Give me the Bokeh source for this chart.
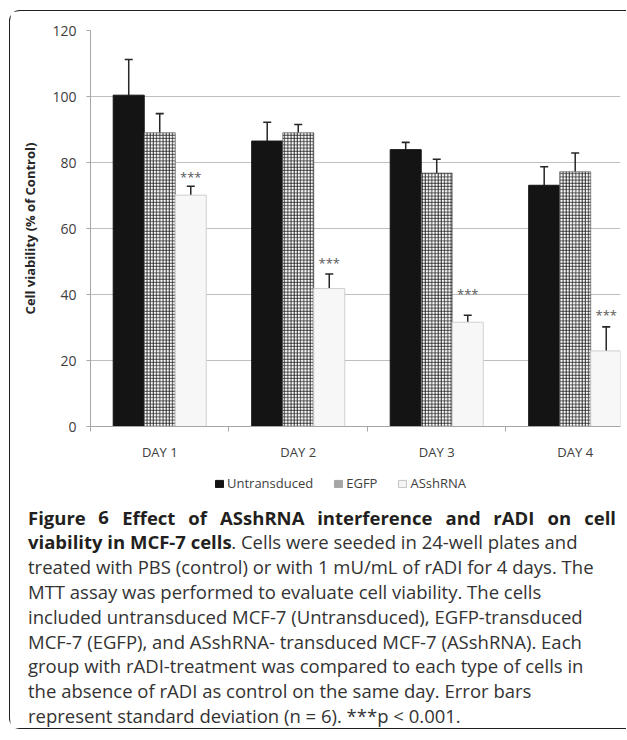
from bokeh.plotting import figure
from bokeh.layouts import column
from bokeh.models import (ColumnDataSource, Range1d, FixedTicker, Whisker, TeeHead,
                          Legend, LegendItem)
from bokeh.core.properties import value
from bokeh.embed import file_html
from bokeh.resources import INLINE

# ---------------- data ----------------
days = ["DAY 1", "DAY 2", "DAY 3", "DAY 4"]
series = ["Untransduced", "EGFP", "ASshRNA"]
untransduced = [100.4, 86.5, 83.9, 73.1]
untransduced_sd = [10.8, 5.7, 2.2, 5.6]
egfp = [89.0, 89.0, 76.8, 77.2]
egfp_sd = [5.8, 2.5, 4.2, 5.7]
asshrna = [70.1, 41.8, 31.6, 22.9]
asshrna_sd = [2.7, 4.4, 2.1, 7.3]
sig_marks = ["***", "***", "***", "***"]
sig_y = [75.5, 49.5, 40.1, 33.7]
y_ticks = [0, 20, 40, 60, 80, 100, 120]
y_label = "Cell viability (% of Control)"

caption_line1 = "Figure 6 Effect of ASshRNA interference and rADI on cell"
caption_line2_bold = "viability in MCF-7 cells"
caption_line2_rest = ". Cells were seeded in 24-well plates and"
caption_rest = [
    "treated with PBS (control) or with 1 mU/mL of rADI for 4 days. The",
    "MTT assay was performed to evaluate cell viability. The cells",
    "included untransduced MCF-7 (Untransduced), EGFP-transduced",
    "MCF-7 (EGFP), and ASshRNA- transduced MCF-7 (ASshRNA). Each",
    "group with rADI-treatment was compared to each type of cells in",
    "the absence of rADI as control on the same day. Error bars",
    "represent standard deviation (n = 6). ***p < 0.001.",
]

# ---------------- layout constants ----------------
W = 616
H1, H2 = 455, 262
FONT = "Open Sans"
CAP_SIZE = 18.5
bw = 0.224          # bar width in category units

# approximate Open Sans Bold advance widths (em) for laying out the bold words
BOLD = dict(zip("abcdefghijklmnopqrstuvwxyz",
                [.590, .630, .525, .630, .604, .379, .556, .642, .295, .295, .590, .295, .960,
                 .642, .618, .630, .630, .451, .509, .420, .642, .561, .850, .580, .561, .500]))
BOLD.update({"A": .690, "C": .635, "D": .732, "E": .546, "F": .534, "I": .339, "M": .929,
             "N": .790, "R": .656, "S": .549, "-": .322, ".": .286, " ": .260, "6": .572, "7": .572})


def width_px(s):
    return sum(BOLD.get(ch, .58) for ch in s) * CAP_SIZE


centers = [i + 0.5 for i in range(len(days))]
src = ColumnDataSource(dict(
    xu=[c - bw for c in centers], xe=centers, xa=[c + bw for c in centers],
    u=untransduced, e=egfp, a=asshrna,
    u_hi=[v + s for v, s in zip(untransduced, untransduced_sd)],
    e_hi=[v + s for v, s in zip(egfp, egfp_sd)],
    a_hi=[v + s for v, s in zip(asshrna, asshrna_sd)],
    sig=sig_marks, sig_y=sig_y,
))

# ================= chart =================
p = figure(width=W, height=H1, x_range=Range1d(0, 3.827), y_range=Range1d(0, 120),
           output_backend="svg", toolbar_location=None, frame_align=False,
           min_border_left=80, min_border_right=6, min_border_top=19, min_border_bottom=40)
p.outline_line_color = None
p.background_fill_color = "white"
p.border_fill_color = "white"

p.xgrid.grid_line_color = None
p.ygrid.grid_line_color = "#bfbfbf"
p.ygrid.grid_line_width = 1
p.ygrid.ticker = FixedTicker(ticks=y_ticks[1:])

p.yaxis.ticker = FixedTicker(ticks=y_ticks)
p.yaxis.axis_line_color = "#a6a6a6"
p.yaxis.major_tick_line_color = "#a6a6a6"
p.yaxis.major_tick_out = 4
p.yaxis.major_tick_in = 0
p.yaxis.minor_tick_line_color = None
p.yaxis.major_label_standoff = 10
p.yaxis.major_label_text_font = FONT
p.yaxis.major_label_text_font_size = "14px"
p.yaxis.major_label_text_color = "#404040"
p.yaxis.axis_label = y_label
p.yaxis.axis_label_text_font = FONT
p.yaxis.axis_label_text_font_size = "13px"
p.yaxis.axis_label_text_font_style = "bold"
p.yaxis.axis_label_text_color = "#262626"
p.yaxis.axis_label_standoff = 10

p.xaxis.ticker = FixedTicker(ticks=centers, minor_ticks=list(range(len(days))))
p.xaxis.major_label_overrides = {c: d for c, d in zip(centers, days)}
p.xaxis.axis_line_color = "#a6a6a6"
p.xaxis.major_tick_line_color = None
p.xaxis.major_tick_out = 0
p.xaxis.major_tick_in = 0
p.xaxis.minor_tick_line_color = "#a6a6a6"
p.xaxis.minor_tick_out = 5
p.xaxis.minor_tick_in = 0
p.xaxis.major_label_standoff = 11
p.xaxis.major_label_text_font = FONT
p.xaxis.major_label_text_font_size = "13px"
p.xaxis.major_label_text_color = "#404040"

p.vbar(x="xu", top="u", bottom=0, width=bw, source=src,
       fill_color="#141414", line_color="#141414", line_width=1)
p.vbar(x="xe", top="e", bottom=0, width=bw, source=src,
       fill_color="white", line_color="#444444", line_width=0.6,
       hatch_pattern="+", hatch_color="#222222", hatch_scale=3.2, hatch_weight=0.9)
p.vbar(x="xa", top="a", bottom=0, width=bw, source=src,
       fill_color="#f7f7f7", line_color="#cfcfcf", line_width=1)

for xcol, lo, hi in (("xu", "u", "u_hi"), ("xe", "e", "e_hi"), ("xa", "a", "a_hi")):
    p.add_layout(Whisker(source=src, base=xcol, lower=lo, upper=hi, dimension="height",
                         line_color="#262626", line_width=1.5, lower_head=None,
                         upper_head=TeeHead(size=8, line_color="#262626", line_width=1.6)))

p.text(x="xa", y="sig_y", text="sig", source=src, text_align="center", text_baseline="middle",
       text_font=value(FONT), text_font_size="13px", text_color="#595959")

# ================= legend + caption =================
c = figure(width=W, height=H2, x_range=Range1d(0, W), y_range=Range1d(H2, 0),
           output_backend="svg", toolbar_location=None, frame_align=False,
           min_border=0, min_border_left=0, min_border_right=0,
           min_border_top=0, min_border_bottom=0)
c.axis.visible = False
c.grid.visible = False
c.outline_line_color = None
c.background_fill_color = "white"
c.border_fill_color = "white"

nan = float("nan")
r_u = c.vbar(x=[nan], top=[nan], width=1, fill_color="#141414", line_color="#141414")
r_e = c.vbar(x=[nan], top=[nan], width=1, fill_color="#a6a6a6", line_color="#a6a6a6")
r_a = c.vbar(x=[nan], top=[nan], width=1, fill_color="#f5f5f5", line_color="#c4c4c4")
legend = Legend(items=[LegendItem(label=s, renderers=[r]) for s, r in zip(series, (r_u, r_e, r_a))],
                orientation="horizontal", location=(204, H2 - 26),
                glyph_width=10, glyph_height=9, label_standoff=3, spacing=20,
                padding=0, margin=0, border_line_color=None, background_fill_alpha=0,
                label_text_font=FONT, label_text_font_size="13px", label_text_color="#404040")
c.add_layout(legend, "center")

x0 = 17.5
base0 = 50.5
lh = 24.8

words = caption_line1.split(" ")
ws = [width_px(w) for w in words]
gap = (588 - sum(ws)) / (len(words) - 1)
wx = []
acc = x0
for wd in ws:
    wx.append(acc)
    acc += wd + gap
bold_w = width_px(caption_line2_bold) + 2

bold_src = ColumnDataSource(dict(x=wx + [x0], y=[base0] * len(words) + [base0 + lh],
                                 t=words + [caption_line2_bold]))
reg_src = ColumnDataSource(dict(
    x=[x0 + bold_w] + [x0] * len(caption_rest),
    y=[base0 + lh] + [base0 + lh * (k + 2) for k in range(len(caption_rest))],
    t=[caption_line2_rest] + caption_rest))

c.text(x="x", y="y", text="t", source=bold_src, text_font=value(FONT),
       text_font_size=f"{CAP_SIZE}px", text_font_style="bold", text_color="#231f20",
       text_baseline="alphabetic", text_align="left")
c.text(x="x", y="y", text="t", source=reg_src, text_font=value(FONT),
       text_font_size=f"{CAP_SIZE}px", text_color="#333333",
       text_baseline="alphabetic", text_align="left")

layout = column(p, c, spacing=0, styles={
    "margin-left": "9px", "margin-top": "10px",
    "border-left": "1.5px solid #231f20", "border-top": "1.5px solid #231f20",
    "border-bottom": "1.5px solid #231f20",
    "border-top-left-radius": "11px", "border-bottom-left-radius": "11px",
})

open("out.html", "w").write(file_html(layout, INLINE))
